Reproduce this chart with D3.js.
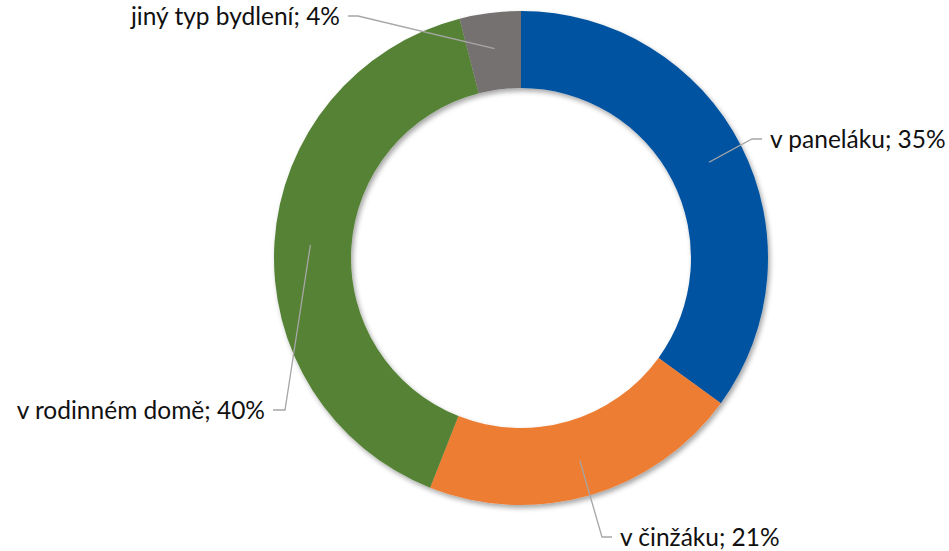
<!DOCTYPE html>
<html lang="cs">
<head>
    <meta charset="UTF-8">
    <title>Typ bydlení</title>
    <script src="https://d3js.org/d3.v7.min.js"></script>
    <style>
        body { margin: 0; background: #fff; }
        text { font-family: Lato, "Open Sans", sans-serif; font-size: 24.5px; fill: #111; }
    </style>
</head>
<body>

    <script>

        var categories = ["v paneláku", "v činžáku", "v rodinném domě", "jiný typ bydlení"];
        var values = [35, 21, 40, 4];
        var colors = ["#0653A0", "#ED7D31", "#548235", "#767171"];

        // elbow point of each leader line and which side the text sits on
        var labelPos = [
            { x: 762, y: 139, side: "right", dx: -10 },
            { x: 612, y: 537, side: "right", dx: -10 },
            { x: 273, y: 410, side: "left", dx: 12 },
            { x: 348, y: 16, side: "left", dx: 10 }
        ];

        var width = 949;
        var height = 551;
        var cx = 521, cy = 258;
        var outerR = 247, innerR = 170;

        var data = categories.map(function (c, i) {
            return { name: c, value: values[i], color: colors[i], pos: labelPos[i] };
        });

        var svg = d3.select("body")
            .append("svg")
            .attr("width", width)
            .attr("height", height);

        var defs = svg.append("defs");
        var shadow = defs.append("filter")
            .attr("id", "shadow")
            .attr("x", "-10%").attr("y", "-10%")
            .attr("width", "120%").attr("height", "120%");
        shadow.append("feDropShadow")
            .attr("dx", 2).attr("dy", 3)
            .attr("stdDeviation", 2.5)
            .attr("flood-color", "#000")
            .attr("flood-opacity", 0.35);

        var g = svg.append("g")
            .attr("transform", "translate(" + cx + "," + cy + ")");

        var pie = d3.pie()
            .sort(null)
            .value(function (d) { return d.value; });

        var arc = d3.arc()
            .innerRadius(innerR)
            .outerRadius(outerR);

        var labelArc = d3.arc()
            .innerRadius(211)
            .outerRadius(211);

        var arcs = pie(data);

        g.append("g")
            .attr("filter", "url(#shadow)")
            .selectAll("path")
            .data(arcs)
            .enter()
                .append("path")
                .attr("d", arc)
                .attr("fill", function (d) { return d.data.color; });

        // leader lines
        svg.selectAll("polyline.leader")
            .data(arcs)
            .enter()
                .append("polyline")
                .attr("class", "leader")
                .attr("fill", "none")
                .attr("stroke", "#A6A6A6")
                .attr("stroke-width", 1.3)
                .attr("points", function (d) {
                    var c = labelArc.centroid(d);
                    var p = d.data.pos;
                    return [
                        [cx + c[0], cy + c[1]],
                        [p.x + p.dx, p.y],
                        [p.x, p.y]
                    ].map(function (q) { return q.join(","); }).join(" ");
                });

        svg.selectAll("text.label")
            .data(arcs)
            .enter()
                .append("text")
                .attr("class", "label")
                .attr("x", function (d) {
                    return d.data.pos.side === "right" ? d.data.pos.x + 8 : d.data.pos.x - 8;
                })
                .attr("y", function (d) { return d.data.pos.y; })
                .attr("dy", "0.35em")
                .attr("text-anchor", function (d) { return d.data.pos.side === "right" ? "start" : "end"; })
                .text(function (d) { return d.data.name + "; " + d.data.value + "%"; });

    </script>

</body>
</html>
